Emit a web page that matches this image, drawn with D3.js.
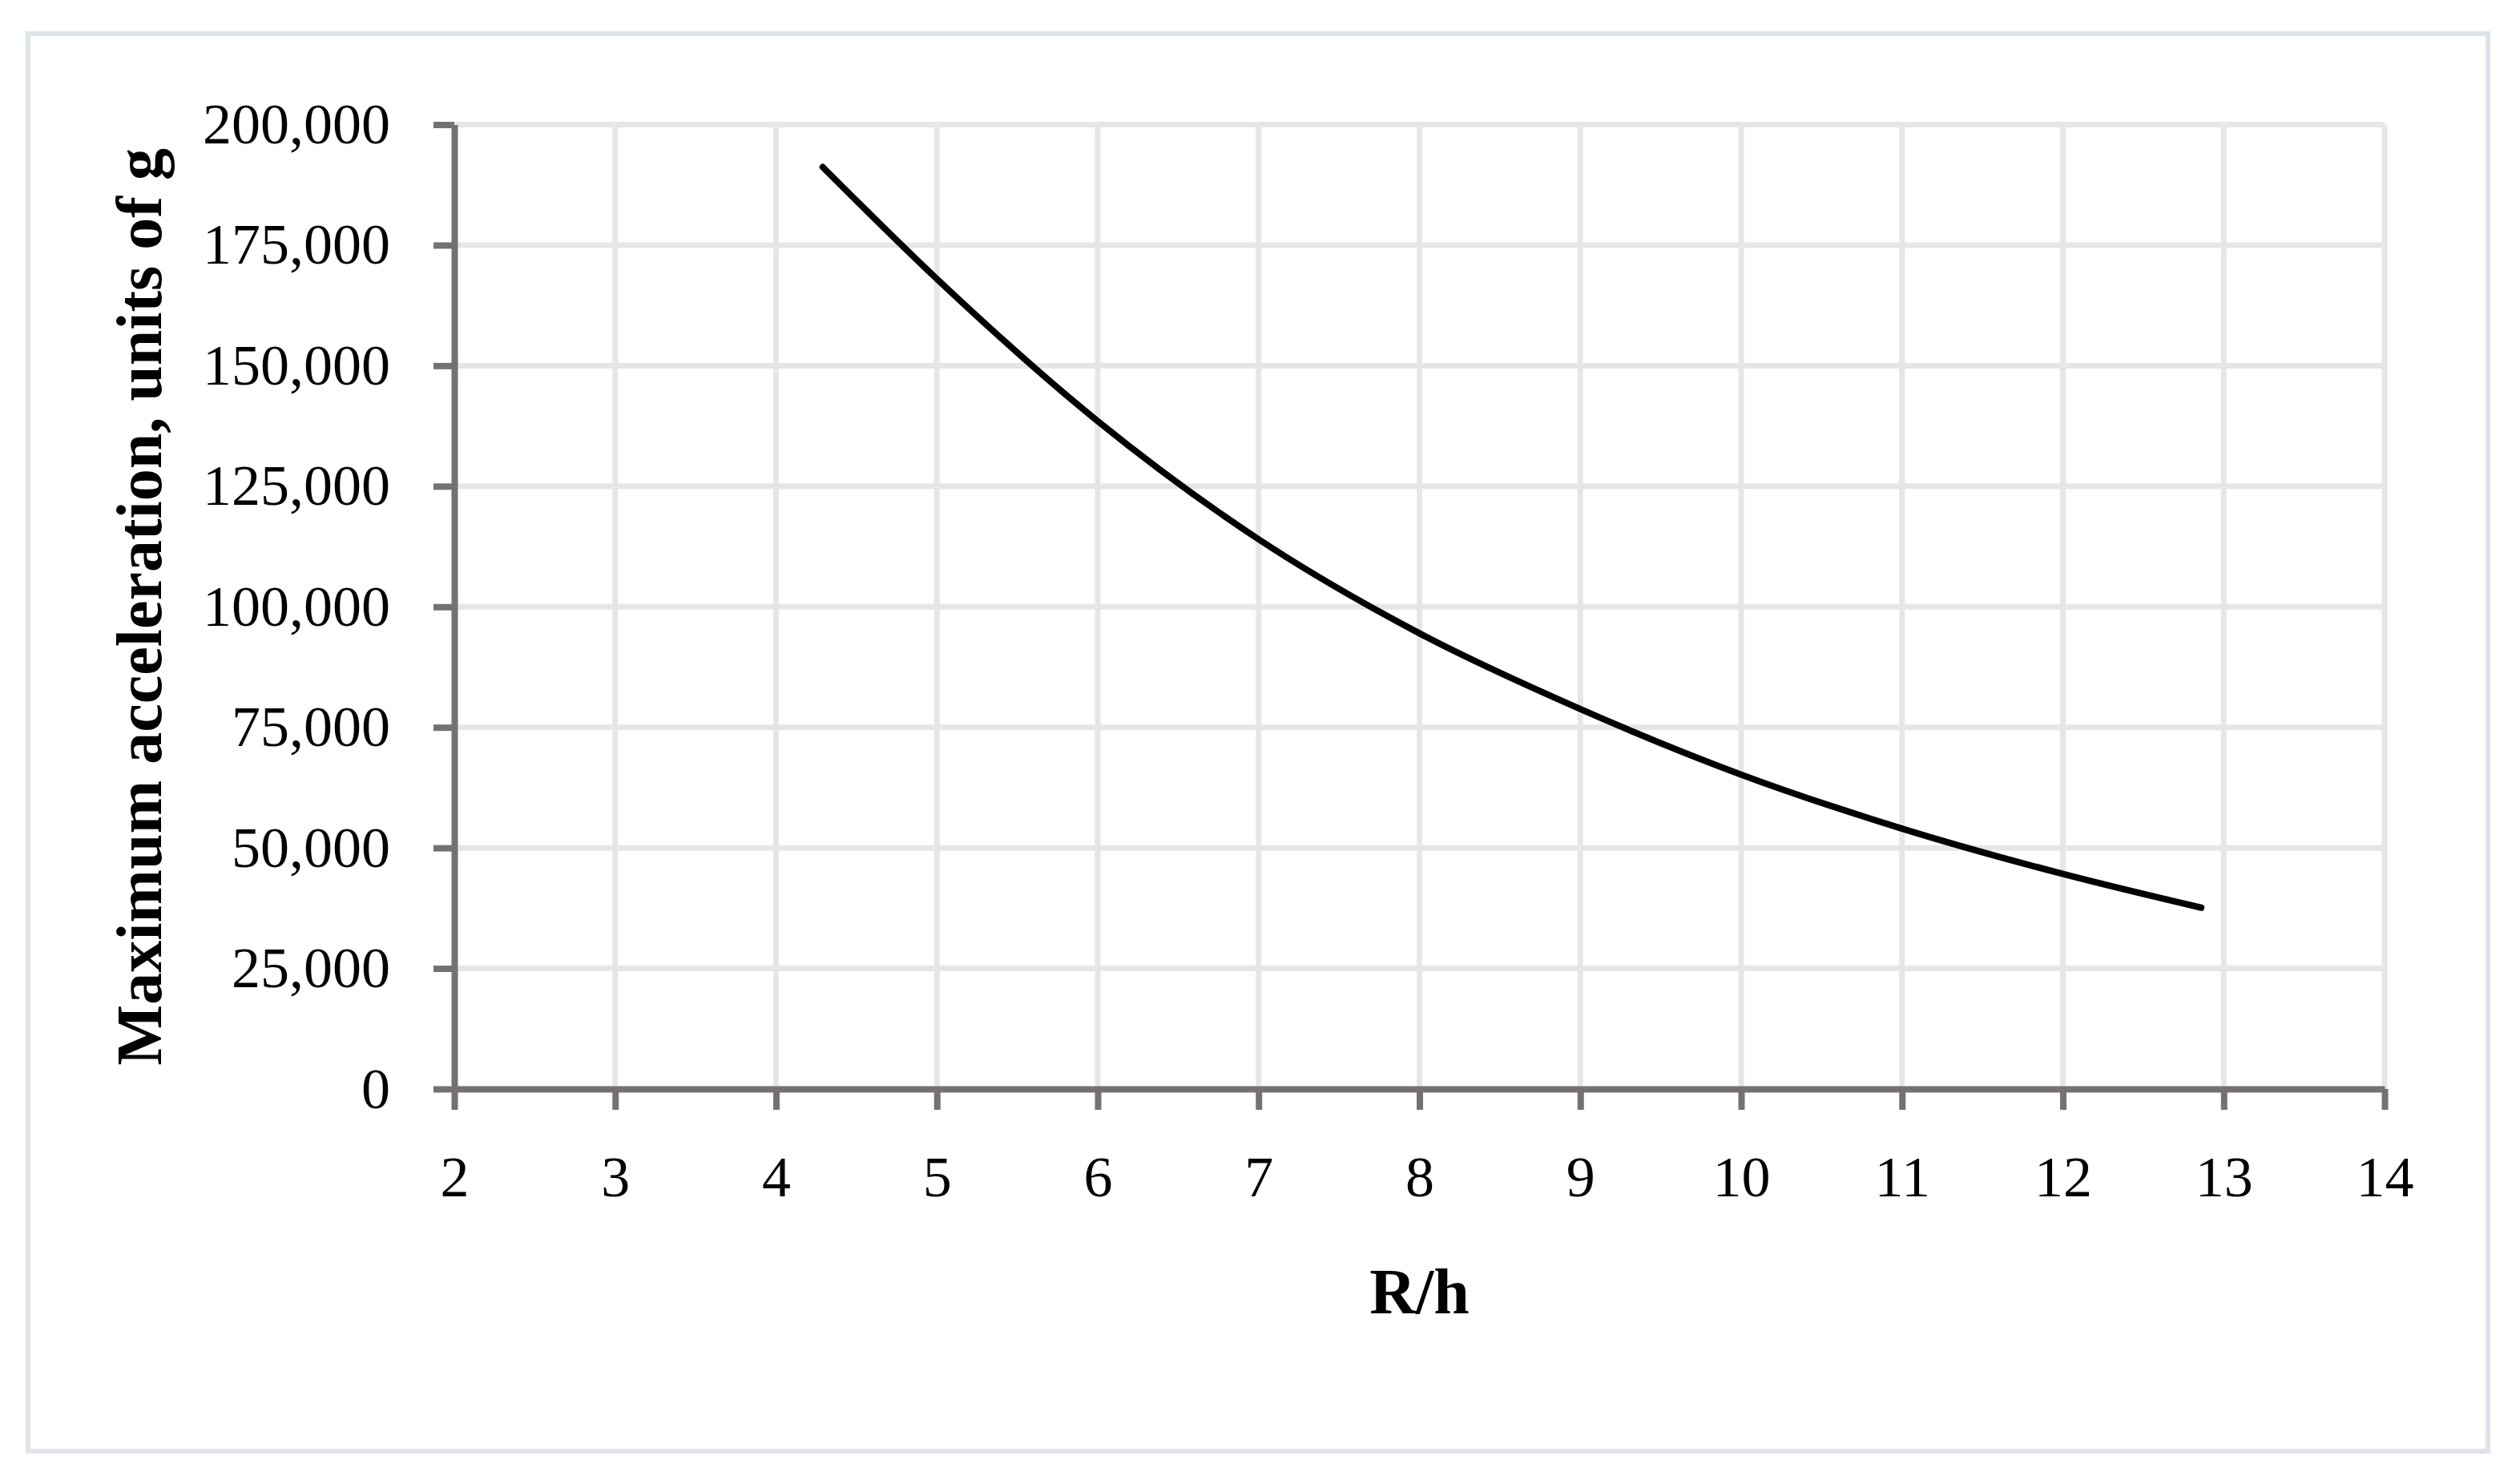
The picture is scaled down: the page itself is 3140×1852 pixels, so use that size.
<!DOCTYPE html>
<html>
<head>
<meta charset="utf-8">
<script src="https://cdn.jsdelivr.net/npm/d3@7"></script>
<style>
  html, body { margin: 0; padding: 0; background: #ffffff; }
  svg { display: block; }
</style>
</head>
<body>
<svg id="chart" width="3140" height="1852"></svg>
<script>
// ---- data ----
const ratioRh = [4.29, 5, 6, 7, 8, 9, 10, 11, 12, 12.86];
const maxAccel = [191200, 168000, 138500, 114000, 94500, 78800, 65200, 54000, 44600, 37600];
const xTicks = [2, 3, 4, 5, 6, 7, 8, 9, 10, 11, 12, 13, 14];
const yTicks = [0, 25000, 50000, 75000, 100000, 125000, 150000, 175000, 200000];
const xTitle = "R/h";
const yTitle = "Maximum acceleration, units of g";

(function () {
  const svg = d3.select("#chart");
  const W = 3140, H = 1852;
  const pLeft = 567, pRight = 2976, pTop = 155.5, pBottom = 1359;
  const fontFamily = "'Liberation Serif', 'Times New Roman', serif";
  const axisColor = "#767171";
  const gridColor = "#e7e6e6";

  svg.append("rect").attr("width", W).attr("height", H).attr("fill", "#ffffff");
  // outer frame
  svg.append("rect")
    .attr("x", 35).attr("y", 42).attr("width", 3070).attr("height", 1769)
    .attr("fill", "none").attr("stroke", "#dfe3ea").attr("stroke-width", 6);

  const x = d3.scaleLinear().domain([2, 14]).range([pLeft, pRight]);
  const y = d3.scaleLinear().domain([0, 200000]).range([pBottom, pTop]);

  // gridlines
  const grid = svg.append("g");
  grid.selectAll("line.v").data(xTicks.filter(d => d !== 2)).join("line")
    .attr("class", "v")
    .attr("x1", d => x(d)).attr("x2", d => x(d))
    .attr("y1", pTop).attr("y2", pBottom)
    .attr("stroke", gridColor).attr("stroke-width", 7);
  grid.selectAll("line.h").data(yTicks.filter(d => d !== 0)).join("line")
    .attr("class", "h")
    .attr("x1", pLeft).attr("x2", pRight)
    .attr("y1", d => y(d)).attr("y2", d => y(d))
    .attr("stroke", gridColor).attr("stroke-width", 7);

  // axes
  const yAxis = d3.axisLeft(y).tickValues(yTicks).tickFormat(d3.format(","))
    .tickSizeInner(26).tickSizeOuter(0).tickPadding(54);
  const xAxis = d3.axisBottom(x).tickValues(xTicks).tickFormat(d3.format("d"))
    .tickSizeInner(26).tickSizeOuter(0).tickPadding(57);

  const gy = svg.append("g").attr("transform", `translate(${pLeft},0)`).call(yAxis);
  const gx = svg.append("g").attr("transform", `translate(0,${pBottom})`).call(xAxis);

  [gx, gy].forEach(g => {
    g.select(".domain").attr("stroke", axisColor).attr("stroke-width", 8);
    g.selectAll(".tick line").attr("stroke", axisColor).attr("stroke-width", 8);
    g.selectAll(".tick text")
      .attr("fill", "#000").attr("font-family", fontFamily).attr("font-size", 72);
  });

  // curve
  const pts = ratioRh.map((r, i) => [r, maxAccel[i]]);
  const line = d3.line().x(d => x(d[0])).y(d => y(d[1])).curve(d3.curveMonotoneX);
  svg.append("path").datum(pts)
    .attr("d", line)
    .attr("fill", "none").attr("stroke", "#000").attr("stroke-width", 8)
    .attr("stroke-linecap", "round").attr("stroke-linejoin", "round");

  // titles
  svg.append("text")
    .attr("x", (pLeft + pRight) / 2).attr("y", 1639)
    .attr("text-anchor", "middle")
    .attr("font-family", fontFamily).attr("font-weight", "bold").attr("font-size", 80)
    .attr("fill", "#000").text(xTitle);

  svg.append("text")
    .attr("transform", `translate(201,${(pTop + pBottom) / 2}) rotate(-90)`)
    .attr("text-anchor", "middle")
    .attr("font-family", fontFamily).attr("font-weight", "bold").attr("font-size", 80)
    .attr("fill", "#000").text(yTitle);
})();
</script>
</body>
</html>
